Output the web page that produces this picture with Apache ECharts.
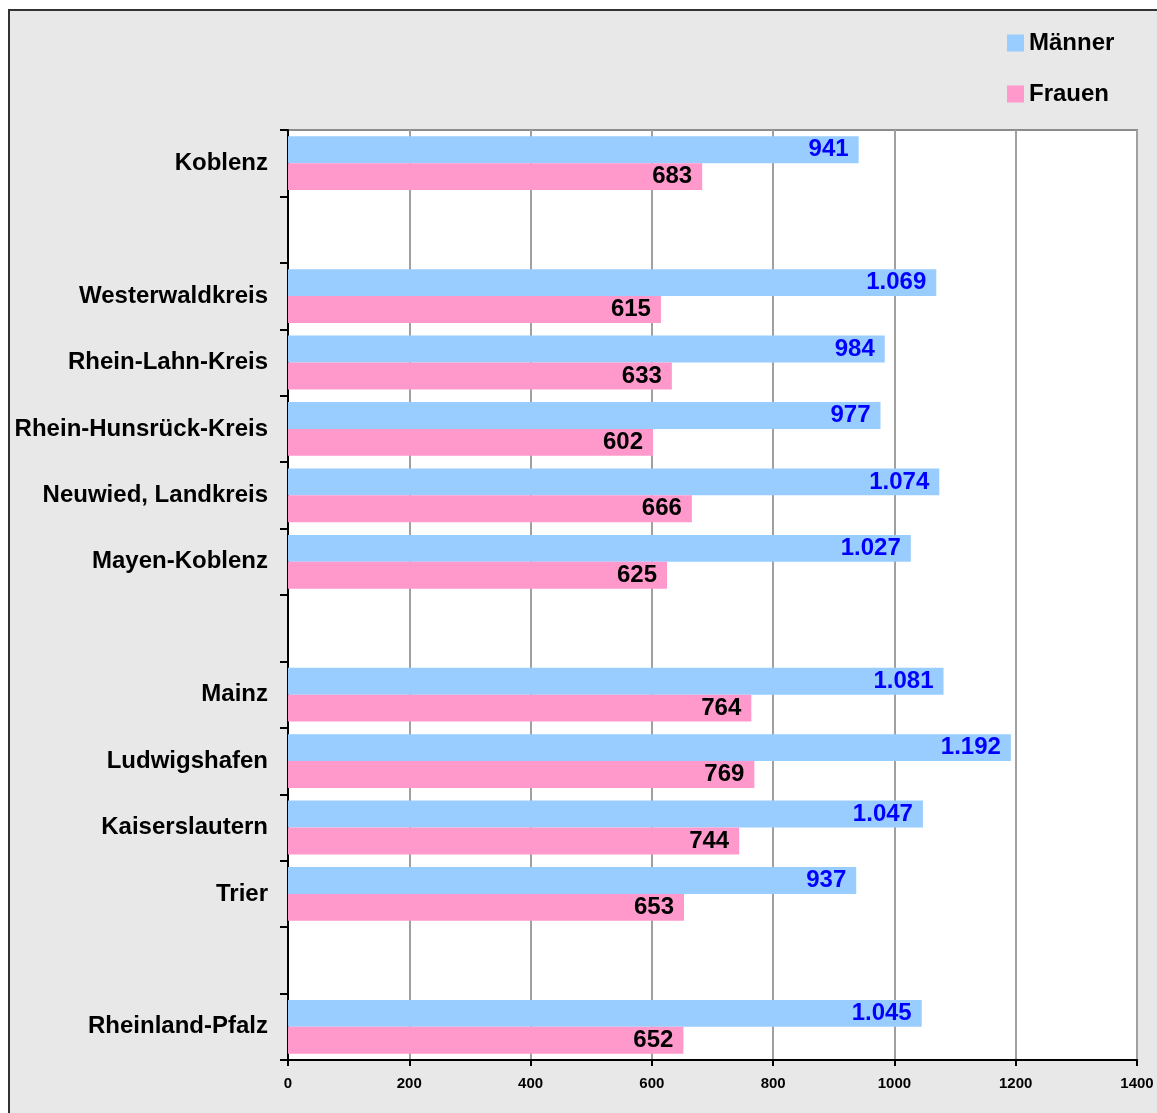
<!DOCTYPE html>
<html>
<head>
<meta charset="utf-8">
<script src="https://cdn.jsdelivr.net/npm/echarts@6/dist/echarts.min.js"></script>
<style>
  html, body { margin: 0; padding: 0; background: #fff; }
  #chart { width: 1157px; height: 1113px; }
</style>
</head>
<body>
<div id="chart"></div>
<script>
// Kategorien von oben nach unten, leere Zeilen als Abstand
var categories = ['Koblenz', '', 'Westerwaldkreis', 'Rhein-Lahn-Kreis', 'Rhein-Hunsrück-Kreis',
    'Neuwied, Landkreis', 'Mayen-Koblenz', ' ', 'Mainz', 'Ludwigshafen', 'Kaiserslautern', 'Trier',
    '  ', 'Rheinland-Pfalz'];
var maenner = [941, null, 1069, 984, 977, 1074, 1027, null, 1081, 1192, 1047, 937, null, 1045];
var frauen = [683, null, 615, 633, 602, 666, 625, null, 764, 769, 744, 653, null, 652];
var xTicks = [0, 200, 400, 600, 800, 1000, 1200, 1400];

var fontFamily = '"Liberation Sans", Arial, sans-serif';

// Tausenderpunkt wie im Original
function formatDe(v) {
    return String(v).replace(/\B(?=(\d{3})+(?!\d))/g, '.');
}

var myChart = echarts.init(document.getElementById('chart'));

var option = {
    backgroundColor: '#ffffff',
    animation: false,
    textStyle: { fontFamily: fontFamily },
    graphic: [{
        type: 'rect',
        z: -10,
        shape: { x: 9, y: 10, width: 1200, height: 1200 },
        style: { fill: '#e8e8e8', stroke: '#333333', lineWidth: 2 }
    }],
    legend: {
        orient: 'vertical',
        left: 1002,
        top: 26,
        itemWidth: 17,
        itemHeight: 17,
        itemGap: 27,
        icon: 'rect',
        textStyle: { fontSize: 24, fontWeight: 'bold', color: '#000', fontFamily: fontFamily },
        data: ['Männer', 'Frauen']
    },
    grid: {
        left: 288,
        top: 130,
        right: 20,
        bottom: 53,
        show: true,
        backgroundColor: '#ffffff',
        borderColor: '#8c8c8c',
        borderWidth: 2
    },
    xAxis: {
        type: 'value',
        min: xTicks[0],
        max: xTicks[xTicks.length - 1],
        interval: 200,
        axisLine: { show: true, lineStyle: { color: '#000', width: 2 } },
        axisTick: { show: true, length: 6, lineStyle: { color: '#000', width: 2 } },
        axisLabel: {
            fontSize: 15, fontWeight: 'bold', color: '#000', margin: 16, fontFamily: fontFamily,
            formatter: function (v) { return String(v); }
        },
        splitLine: { show: true, lineStyle: { color: '#a0a0a0', width: 2 } }
    },
    yAxis: {
        type: 'category',
        inverse: true,
        data: categories,
        axisLine: { show: true, lineStyle: { color: '#000', width: 2 } },
        axisTick: { show: true, length: 8, lineStyle: { color: '#000', width: 2 } },
        axisLabel: { fontSize: 24, fontWeight: 'bold', color: '#000', margin: 20, fontFamily: fontFamily },
        splitLine: { show: false }
    },
    series: [
        {
            name: 'Männer',
            type: 'bar',
            data: maenner,
            barGap: '0%',
            barCategoryGap: '19%',
            itemStyle: { color: '#99ccff' },
            label: {
                show: true,
                position: 'insideRight',
                distance: 10,
                color: '#0000ff',
                fontSize: 24,
                fontWeight: 'bold',
                fontFamily: fontFamily,
                formatter: function (p) { return formatDe(p.value); }
            }
        },
        {
            name: 'Frauen',
            type: 'bar',
            data: frauen,
            barGap: '0%',
            barCategoryGap: '19%',
            itemStyle: { color: '#ff99cc' },
            label: {
                show: true,
                position: 'insideRight',
                distance: 10,
                color: '#000000',
                fontSize: 24,
                fontWeight: 'bold',
                fontFamily: fontFamily,
                formatter: function (p) { return formatDe(p.value); }
            }
        }
    ]
};

myChart.setOption(option);
</script>
</body>
</html>
